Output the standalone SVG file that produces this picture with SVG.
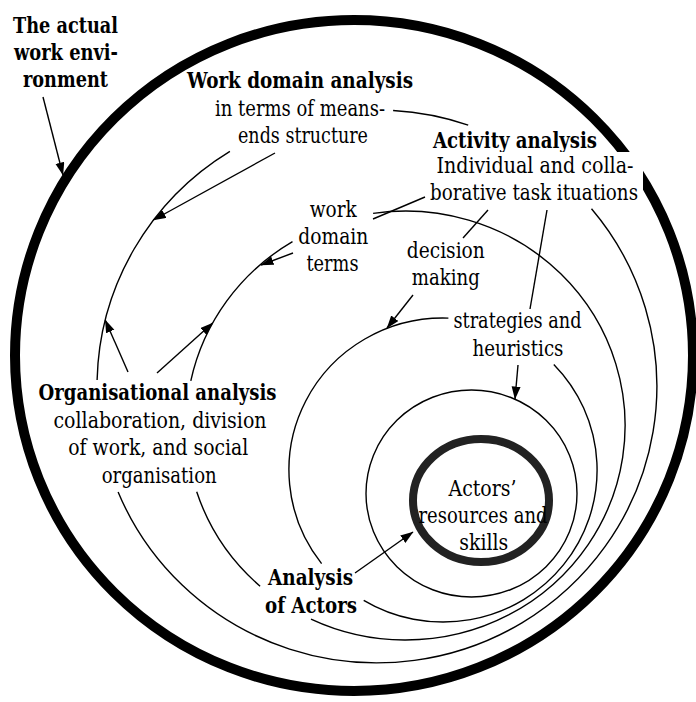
<svg xmlns="http://www.w3.org/2000/svg" width="696" height="702" viewBox="0 0 696 702">
<style>
.c{fill:none;stroke:#000;stroke-width:1.4}
.a{fill:none;stroke:#000;stroke-width:1.4;marker-end:url(#ah)}
.b{font-weight:bold}
</style>
<defs>
<marker id="ah" markerWidth="14" markerHeight="10" refX="12.5" refY="4.5" orient="auto" markerUnits="userSpaceOnUse">
<path d="M0,0 L13,4.5 L0,9 z" fill="#000"/>
</marker>
</defs>
<rect width="696" height="702" fill="#fff"/>
<g font-family="DejaVu Serif, serif" font-size="22" text-anchor="middle" fill="#000">
<g id="environment">
<ellipse cx="354" cy="355.5" rx="339" ry="335.5" fill="none" stroke="#000" stroke-width="10"/>
<text class="b" x="65.5" y="33" textLength="105" lengthAdjust="spacingAndGlyphs">The actual</text>
<text class="b" x="66" y="60" textLength="104" lengthAdjust="spacingAndGlyphs">work envi-</text>
<text class="b" x="65.5" y="87" textLength="85" lengthAdjust="spacingAndGlyphs">ronment</text>
</g>
<g id="connectors">
<path class="c" d="M393.1,110.5 A280,276.5 0 0 1 468.2,125.1"/>
<path class="c" d="M591.5,208.8 A280,276.5 0 1 1 118.1,492"/>
<path class="c" d="M97.1,380 A280,276.5 0 0 1 229.9,151.3"/>
<path class="c" d="M373.1,213.4 A219.5,214.5 0 1 1 311,619.1"/>
<path class="c" d="M260.1,586.2 A219.5,214.5 0 0 1 196.7,491.8"/>
<path class="c" d="M190.8,380.9 A219.5,214.5 0 0 1 292.5,241.6"/>
<path class="c" d="M448.4,318.1 A154,152 0 0 0 321.6,563.6"/>
<path class="c" d="M553.8,364.4 A154,152 0 0 1 363.7,600.3"/>
<ellipse class="c" cx="471.5" cy="493.5" rx="105.5" ry="103.5"/>
<path class="a" d="M43,97 L63,175"/>
<path class="a" d="M275,153 L153.4,220"/>
<path class="a" d="M293,253 L261,265"/>
<path class="a" d="M128,372 L105.2,320"/>
<path class="a" d="M157,373 L212.6,323"/>
<path class="a" d="M413,295 L387,328"/>
<path class="a" d="M518,365 L515,399"/>
<path class="a" d="M355,573 L413,532"/>
<path class="c" d="M425,197 L373,219"/>
<path class="c" d="M488,210 L463,238"/>
<path class="c" d="M547,210 L530,309"/>
</g>
<g id="work-domain-analysis">
<text class="b" x="300" y="88" textLength="226" lengthAdjust="spacingAndGlyphs">Work domain analysis</text>
<text x="300" y="116" textLength="170" lengthAdjust="spacingAndGlyphs">in terms of means-</text>
<text x="303" y="143" textLength="130" lengthAdjust="spacingAndGlyphs">ends structure</text>
</g>
<g id="activity-analysis">
<text class="b" x="515" y="148" textLength="164" lengthAdjust="spacingAndGlyphs">Activity analysis</text>
<rect x="428" y="152" width="215" height="55" fill="#fff"/>
<text x="535" y="173" textLength="197" lengthAdjust="spacingAndGlyphs">Individual and colla-</text>
<text x="534" y="200" textLength="208" lengthAdjust="spacingAndGlyphs">borative task ituations</text>
</g>
<g id="work-domain-terms">
<text x="333.3" y="217" textLength="47" lengthAdjust="spacingAndGlyphs">work</text>
<text x="333.3" y="244" textLength="70" lengthAdjust="spacingAndGlyphs">domain</text>
<text x="332.5" y="271" textLength="52" lengthAdjust="spacingAndGlyphs">terms</text>
</g>
<g id="decision-making">
<text x="445.8" y="258" textLength="78" lengthAdjust="spacingAndGlyphs">decision</text>
<text x="445.8" y="285" textLength="68" lengthAdjust="spacingAndGlyphs">making</text>
</g>
<g id="strategies">
<text x="517.5" y="328" textLength="128" lengthAdjust="spacingAndGlyphs">strategies and</text>
<text x="518" y="356" textLength="91" lengthAdjust="spacingAndGlyphs">heuristics</text>
</g>
<g id="organisational-analysis">
<text class="b" x="157.5" y="400" textLength="238" lengthAdjust="spacingAndGlyphs">Organisational analysis</text>
<text x="160" y="427.5" textLength="213" lengthAdjust="spacingAndGlyphs">collaboration, division</text>
<text x="158.3" y="455" textLength="180" lengthAdjust="spacingAndGlyphs">of work, and social</text>
<text x="159.2" y="482.5" textLength="115" lengthAdjust="spacingAndGlyphs">organisation</text>
</g>
<g id="analysis-of-actors">
<text class="b" x="310.5" y="585" textLength="85" lengthAdjust="spacingAndGlyphs">Analysis</text>
<text class="b" x="311" y="613" textLength="92" lengthAdjust="spacingAndGlyphs">of Actors</text>
</g>
<g id="actors-resources">
<ellipse cx="481" cy="500.5" rx="68" ry="61.5" fill="none" stroke="#222" stroke-width="8"/>
<text x="482.5" y="496" textLength="68" lengthAdjust="spacingAndGlyphs">Actors’</text>
<text x="483" y="523" textLength="129" lengthAdjust="spacingAndGlyphs">resources and</text>
<text x="483.8" y="550" textLength="49" lengthAdjust="spacingAndGlyphs">skills</text>
</g>
</g>
</svg>
